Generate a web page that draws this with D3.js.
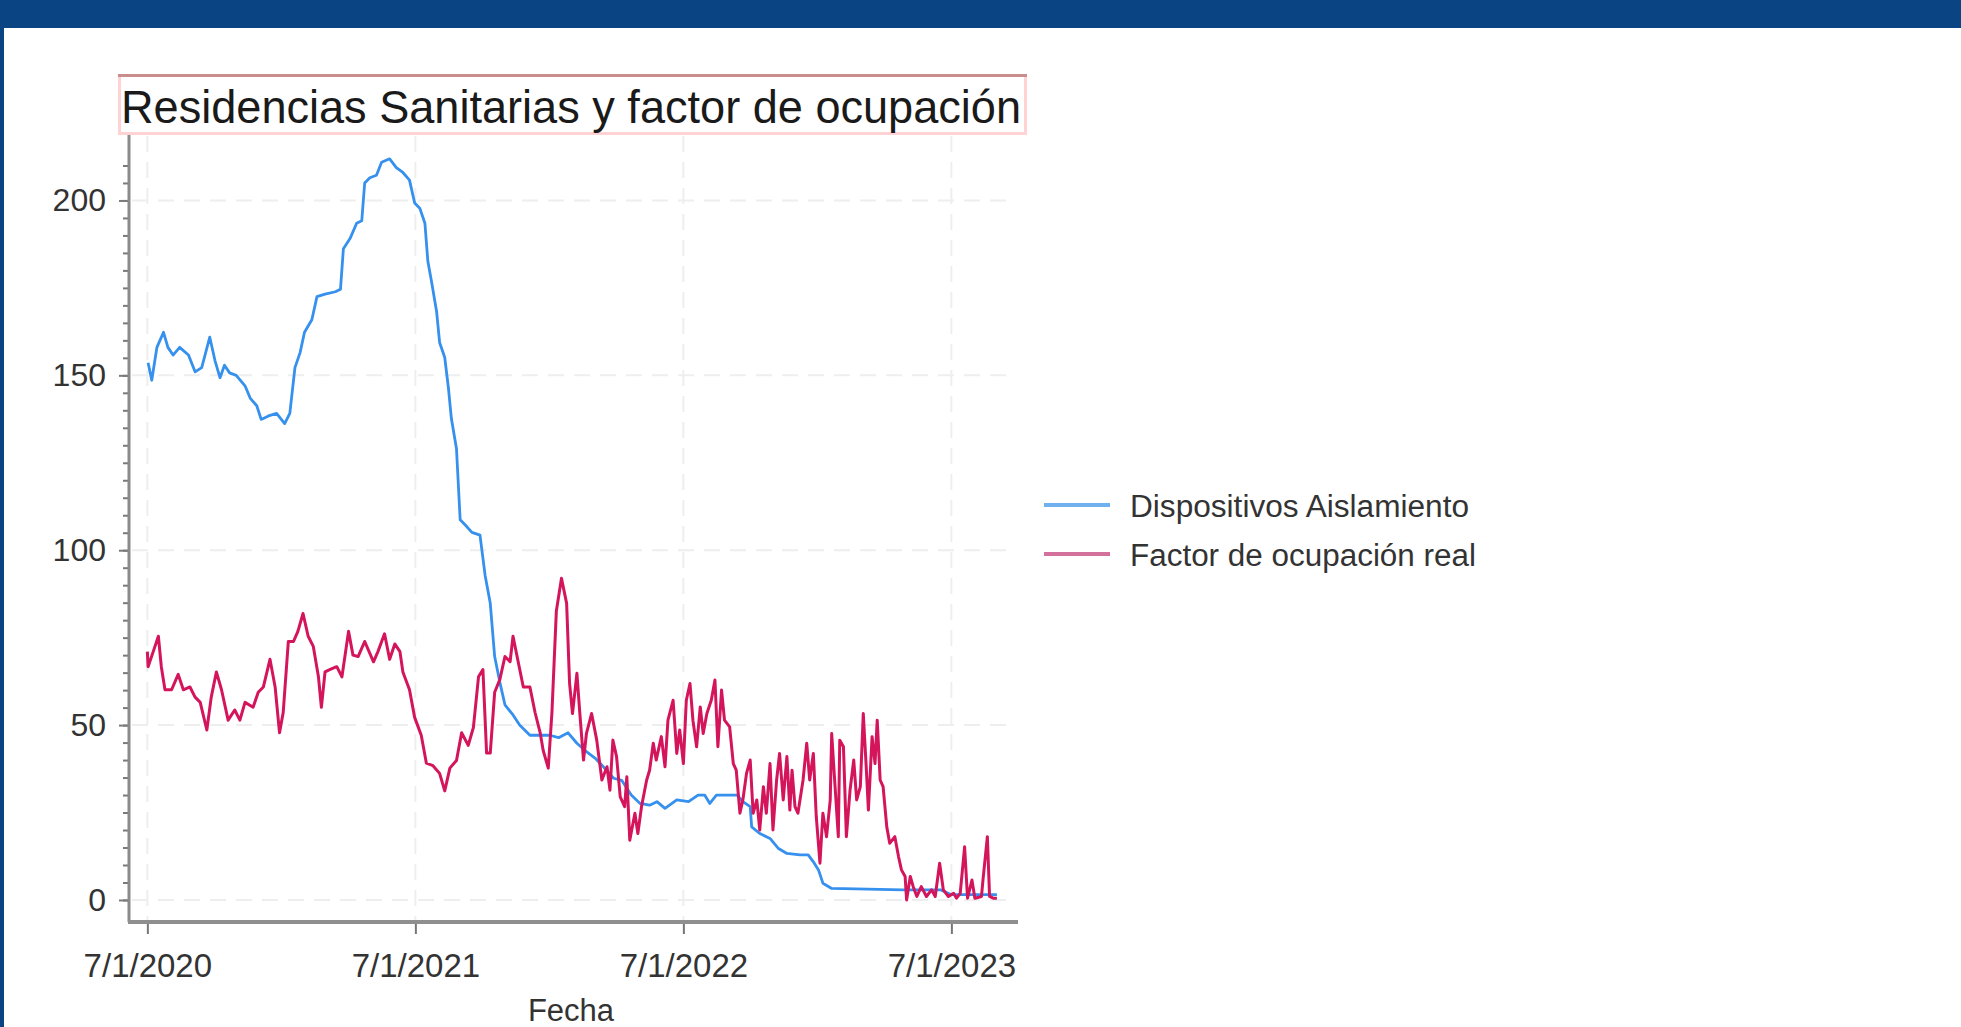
<!DOCTYPE html>
<html>
<head>
<meta charset="utf-8">
<script src="https://cdn.jsdelivr.net/npm/d3@7"></script>
<style>
  body { margin: 0; background: #fff; overflow: hidden; }
  svg { display: block; font-family: "Liberation Sans", Arial, sans-serif; }
</style>
</head>
<body>
<div id="chart"></div>
<script>
// days counted from 7/1/2020
const startDate = new Date(2020, 6, 1);

const blueDays = [1, 6, 13, 22, 28, 35, 44, 56, 65, 74, 85, 92, 99, 105, 112, 121, 133, 140, 149, 155,
  165, 176, 187, 194, 201, 208, 214, 224, 231, 242, 256, 263, 267, 276, 285, 292, 296, 303, 312, 319,
  330, 339, 348, 357, 364, 371, 378, 382, 387, 394, 398, 405, 410, 414, 421, 426, 433, 442, 453, 460,
  467, 473, 480, 487, 498, 507, 521, 535, 548, 560, 573, 585, 598, 610, 621, 635, 646, 659, 671, 684,
  694, 705, 721, 737, 750, 759, 766, 775, 803, 811, 821, 823, 834, 848, 859, 871, 889, 900, 907, 914,
  920, 932, 1029, 1080, 1095, 1157];
const blueValues = [153.6, 148.6, 158, 162.3, 158, 155.8, 158, 155.8, 151, 152.2, 160.9, 154.3, 149.3, 152.9, 150.7, 150, 147, 143.5, 141.3, 137.4,
  138.4, 139.1, 136.2, 139.1, 152.2, 156.5, 162.3, 165.9, 172.5, 173.2, 173.9, 174.6, 186.2, 189.1, 193.5, 194.2, 205, 206.5, 207.2, 210.9,
  211.9, 209.4, 208, 205.8, 199.3, 197.8, 193.5, 182.6, 176.8, 168.1, 159.4, 155.1, 146.4, 137.7, 129, 108.7, 107.2, 105.1, 104.3, 92.8,
  84.8, 69.6, 62.3, 55.8, 52.9, 50, 47.1, 47.1, 47.1, 46.4, 47.8, 44.8, 42.4, 40.5, 38.1, 34.8, 34.2, 30, 27.6, 27.1,
  28.1, 26.2, 28.6, 28.1, 30, 30, 27.6, 30, 30, 28.1, 26.7, 20.9, 19, 17.6, 14.8, 13.3, 12.9, 12.9, 10.9, 8.6,
  4.8, 3.3, 2.9, 2.9, 1.5, 1.5];

const pinkDays = [0, 1, 8, 15, 19, 24, 33, 42, 49, 58, 65, 72, 81, 87, 94, 101, 110, 119, 126, 133,
  144, 151, 158, 167, 174, 180, 185, 192, 199, 205, 212, 219, 226, 233, 237, 242, 249, 258, 265, 274,
  280, 287, 296, 308, 314, 323, 330, 337, 344, 348, 357, 364, 373, 380, 389, 398, 405, 412, 421, 428,
  437, 444, 451, 457, 462, 467, 473, 480, 487, 494, 498, 505, 512, 521, 528, 535, 539, 546, 551, 557,
  564, 571, 575, 579, 585, 589, 594, 598, 605, 612, 619, 626, 630, 634, 639, 644, 650, 653, 657, 664,
  668, 673, 680, 684, 689, 693, 700, 705, 709, 716, 721, 725, 730, 734, 739, 743, 748, 753, 757, 762,
  768, 773, 777, 782, 786, 793, 798, 802, 807, 811, 816, 821, 825, 830, 834, 839, 843, 848, 852, 857,
  861, 866, 871, 875, 878, 882, 886, 893, 898, 902, 907, 911, 916, 920, 925, 930, 932, 936, 941, 943,
  948, 952, 957, 962, 966, 971, 975, 979, 982, 987, 991, 994, 998, 1002, 1007, 1011, 1018, 1023, 1027, 1032,
  1034, 1039, 1043, 1048, 1054, 1061, 1068, 1073, 1079, 1084, 1091, 1098, 1102, 1107, 1113, 1117, 1123, 1127, 1136, 1138,
  1144, 1147, 1152, 1157];
const pinkValues = [71, 66.7, 71, 75.4, 66.7, 60.1, 60.1, 64.5, 60.1, 60.9, 58, 56.5, 48.6, 58, 65.2, 60.1, 51.4, 54.3, 51.4, 56.5,
  55.1, 59.4, 60.9, 68.8, 60.9, 47.8, 53.6, 73.9, 73.9, 76.8, 81.9, 75.4, 72.5, 63.8, 55.1, 65.2, 65.9, 66.7, 63.8, 76.8,
  70, 69.6, 73.9, 68.1, 71, 76.1, 68.8, 73.2, 71, 65.2, 60.1, 52.2, 47.1, 39.1, 38.4, 36.2, 31.2, 37.7, 39.9, 47.8,
  44.2, 49.3, 63.8, 65.9, 42, 42, 59.4, 63, 69.6, 68.1, 75.4, 68.1, 60.9, 60.9, 53.6, 47.8, 42.8, 37.7, 53.6, 82.6,
  92, 84.8, 62, 53.3, 64.8, 53.3, 40, 47.6, 53.3, 45.7, 34.3, 38.1, 31.4, 45.7, 41, 29.5, 26.7, 35.2, 17.1, 24.8,
  19, 26.7, 34.3, 37.1, 44.8, 40, 46.7, 38.1, 51.4, 57.1, 41.9, 48.6, 39, 57.1, 61.9, 51.4, 43.8, 55.2, 47.6, 53.3,
  57.1, 62.9, 43.8, 60, 51.4, 49.5, 39, 37.1, 24.8, 28.6, 36.2, 40, 24.8, 28.6, 20, 32.4, 24.8, 39, 20, 34.3,
  41.9, 28.6, 41, 25.7, 37.1, 26.7, 24.8, 34.3, 44.8, 34.3, 41.9, 23.8, 10.5, 24.8, 18.1, 28.6, 47.6, 34.3, 18.1, 45.7,
  43.8, 18.1, 31.4, 40, 28.6, 32.4, 53.3, 38.1, 25.7, 46.7, 39, 51.4, 34.3, 32.4, 20.9, 16.2, 18.1, 12.4, 8.6, 6.7,
  0, 6.7, 3.8, 1, 3.8, 1, 2.9, 1, 10.5, 2.9, 1, 1.9, 0.5, 1.9, 15.2, 0.5, 5.7, 0.5, 1, 5.7,
  18.1, 1, 0.5, 0.5];

const xTickDates = ["2020-07-01", "2021-07-01", "2022-07-01", "2023-07-01"];
const xTickLabels = ["7/1/2020", "7/1/2021", "7/1/2022", "7/1/2023"];
const yTickValues = [0, 50, 100, 150, 200];
const seriesNames = ["Dispositivos Aislamiento", "Factor de ocupación real"];
const seriesColors = ["#3590ee", "#d4155b"];
const legendColors = ["#6fb0ee", "#d4709c"];

const width = 1961, height = 1027;
const navy = "#0b4482";

const svg = d3.select("#chart")
  .append("svg")
    .attr("width", width)
    .attr("height", height);

svg.append("rect").attr("width", width).attr("height", height).attr("fill", "#fff");
svg.append("rect").attr("width", width).attr("height", 28).attr("fill", navy);
svg.append("rect").attr("width", 4).attr("height", height).attr("fill", navy);

const parseDay = d3.timeParse("%Y-%m-%d");
const toDate = d => d3.timeDay.offset(startDate, d);

const x = d3.scaleTime()
  .domain([new Date(2020, 5, 6), new Date(2023, 8, 27)])
  .range([129, 1016]);

const y = d3.scaleLinear()
  .domain([-6.3, 219])
  .range([922, 134]);

const tickDates = xTickDates.map(parseDay);

// grid
const grid = svg.append("g")
  .attr("stroke", "#eeeeee")
  .attr("stroke-width", 2)
  .attr("stroke-dasharray", "16 10");

grid.selectAll(".hgrid")
  .data(yTickValues)
  .join("line")
    .attr("x1", 132).attr("x2", 1016)
    .attr("y1", d => y(d)).attr("y2", d => y(d));

grid.selectAll(".vgrid")
  .data(tickDates)
  .join("line")
    .attr("x1", d => x(d)).attr("x2", d => x(d))
    .attr("y1", 136).attr("y2", 920);

// series
const line = d3.line()
  .x(d => x(toDate(d[0])))
  .y(d => y(d[1]));

const blueData = d3.zip(blueDays, blueValues);
const pinkData = d3.zip(pinkDays, pinkValues);

svg.append("path")
  .datum(blueData)
  .attr("fill", "none")
  .attr("stroke", seriesColors[0])
  .attr("stroke-width", 2.8)
  .attr("stroke-linejoin", "round")
  .attr("d", line);

svg.append("path")
  .datum(pinkData)
  .attr("fill", "none")
  .attr("stroke", seriesColors[1])
  .attr("stroke-width", 3)
  .attr("stroke-linejoin", "round")
  .attr("d", line);

// y axis
const yAxis = svg.append("g")
  .attr("transform", "translate(129,0)")
  .call(d3.axisLeft(y).tickValues(yTickValues).tickSize(10).tickPadding(13));

svg.append("g")
  .attr("transform", "translate(129,0)")
  .call(d3.axisLeft(y).tickValues(d3.range(0, 215, 5)).tickSize(6).tickFormat(""))
  .call(g => g.select(".domain").remove())
  .call(g => g.selectAll("line").attr("stroke", "#7a7a7a").attr("stroke-width", 2));

yAxis.select(".domain").remove();
yAxis.selectAll("line").attr("stroke", "#7a7a7a").attr("stroke-width", 2);
yAxis.selectAll("text")
  .attr("font-size", 32)
  .attr("font-family", "Liberation Sans, Arial, sans-serif")
  .attr("fill", "#333");

svg.append("line")
  .attr("x1", 129).attr("x2", 129)
  .attr("y1", 134).attr("y2", 922)
  .attr("stroke", "#8a8a8a")
  .attr("stroke-width", 3);

// x axis
const xAxis = svg.append("g")
  .attr("transform", "translate(0,922)")
  .call(d3.axisBottom(x).tickValues(tickDates).tickFormat((d, i) => xTickLabels[i]).tickSize(12));

xAxis.select(".domain").remove();
xAxis.selectAll("line").attr("stroke", "#777").attr("stroke-width", 2);
xAxis.selectAll("text")
  .attr("y", 55)
  .attr("dy", 0)
  .attr("font-size", 33)
  .attr("font-family", "Liberation Sans, Arial, sans-serif")
  .attr("fill", "#333");

svg.append("line")
  .attr("x1", 128).attr("x2", 1018)
  .attr("y1", 922).attr("y2", 922)
  .attr("stroke", "#8f8f8f")
  .attr("stroke-width", 4);

svg.append("text")
  .attr("x", 571)
  .attr("y", 1021)
  .attr("text-anchor", "middle")
  .attr("font-size", 31)
  .attr("fill", "#333")
  .text("Fecha");

// title box
svg.append("rect")
  .attr("x", 119.5).attr("y", 75.5)
  .attr("width", 906).attr("height", 58)
  .attr("fill", "#fff")
  .attr("stroke", "#ffd3d3")
  .attr("stroke-width", 3);

svg.append("line")
  .attr("x1", 118).attr("x2", 1027)
  .attr("y1", 75.5).attr("y2", 75.5)
  .attr("stroke", "#c98d8d")
  .attr("stroke-width", 3);

svg.append("text")
  .attr("x", 121)
  .attr("y", 123)
  .attr("font-size", 47)
  .attr("fill", "#1a1a1a")
  .attr("textLength", 900)
  .attr("lengthAdjust", "spacingAndGlyphs")
  .text("Residencias Sanitarias y factor de ocupación");

// legend
const legend = svg.append("g");
const legendRows = legend.selectAll("g")
  .data(seriesNames)
  .join("g")
    .attr("transform", (d, i) => `translate(1044,${505 + i * 49})`);

legendRows.append("line")
  .attr("x1", 0).attr("x2", 66)
  .attr("stroke", (d, i) => legendColors[i])
  .attr("stroke-width", 4);

legendRows.append("text")
  .attr("x", 86)
  .attr("y", 12)
  .attr("font-size", 31)
  .attr("fill", "#333")
  .attr("textLength", (d, i) => [339, 346][i])
  .attr("lengthAdjust", "spacingAndGlyphs")
  .text(d => d);
</script>
</body>
</html>
